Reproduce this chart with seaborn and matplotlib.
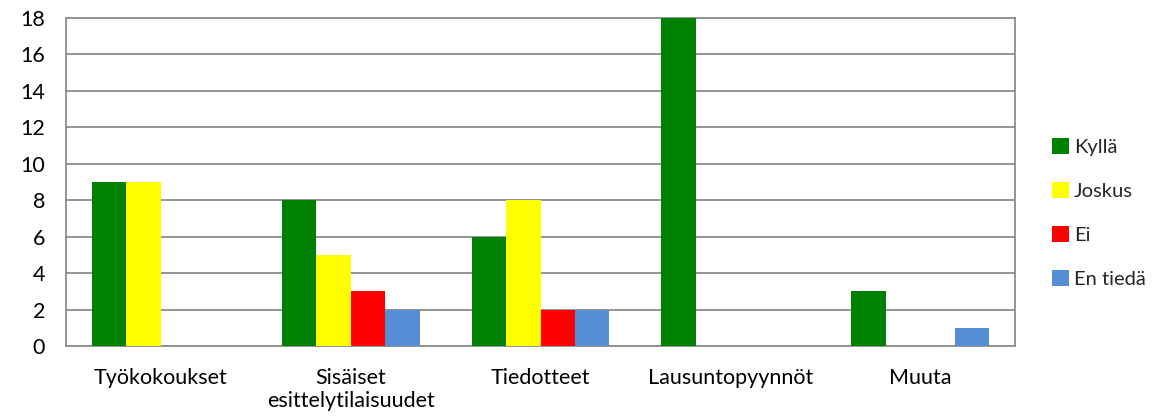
import pandas as pd
import seaborn as sns
import matplotlib.pyplot as plt

categories = ["Työkokoukset", "Sisäiset\nesittelytilaisuudet", "Tiedotteet",
              "Lausuntopyynnöt", "Muuta"]
series = ["Kyllä", "Joskus", "Ei", "En tiedä"]
kylla = [9, 8, 6, 18, 3]
joskus = [9, 5, 8, 0, 0]
ei = [0, 3, 2, 0, 0]
en_tieda = [0, 2, 2, 0, 1]
colors = ["#008000", "#FFFF00", "#FF0000", "#558ED5"]

rows = []
for name, vals in zip(series, [kylla, joskus, ei, en_tieda]):
    for cat, v in zip(categories, vals):
        rows.append({"cat": cat, "vastaus": name, "n": v})
df = pd.DataFrame(rows)

sns.set_style("white")
plt.rcParams['font.family'] = ['Lato', 'DejaVu Sans']

fig = plt.figure(figsize=(11.53, 4.18), dpi=100)
ax = fig.add_axes([66 / 1153, 1 - 346 / 418, (1015 - 66) / 1153, (346 - 18) / 418])

sns.barplot(data=df, x="cat", y="n", hue="vastaus", order=categories, hue_order=series,
            palette=colors, width=0.727, saturation=1, linewidth=0, ax=ax, zorder=3)

ax.set_ylim(0, 18)
ax.set_yticks(range(0, 19, 2))
ax.set_xlim(-0.5, 4.5)
ax.grid(axis="y", color="#8c8c8c", linewidth=1.3, zorder=0)
ax.set_axisbelow(True)
for s in ax.spines.values():
    s.set_color("#8c8c8c")
    s.set_linewidth(1.3)
ax.tick_params(axis="both", length=0, labelsize=15.5, colors="black")
ax.tick_params(axis="y", pad=15)
ax.tick_params(axis="x", pad=16)
ax.set_xlabel("")
ax.set_ylabel("")

ax.legend(loc="center left", bbox_to_anchor=(1.03, 0.405), frameon=False, fontsize=14.5,
          handlelength=0.85, handleheight=0.85, handletextpad=0.25, labelspacing=1.3,
          borderaxespad=0)

fig.savefig("out.png", dpi=100)
